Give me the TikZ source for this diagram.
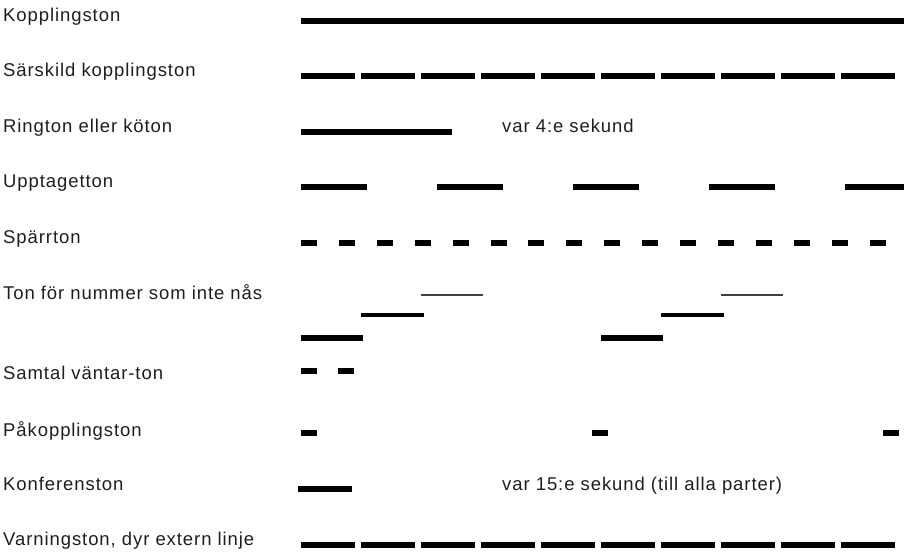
\documentclass[tikz,border=0pt]{standalone}
\usepackage{fontspec}
\setmainfont[LetterSpace=5]{Liberation Sans}
\usepackage{xcolor}
\usepackage{tikz}
\usetikzlibrary{positioning}
\definecolor{labelgray}{HTML}{1e1e1e}
\tikzset {
  x=1pt, y=-1pt,
  % names of the tones, left column
  lbl/.style = {anchor=base west, inner sep=0pt, text=labelgray,
                font=\fontsize{18.5}{22}\selectfont},
  % remarks written beside a tone
  note/.style = {lbl},
  % tone segments
  tone/.style = {line width=6pt},
  midtone/.style = {line width=4pt},
  thintone/.style = {line width=2pt, black!75},
}
\begin{document}
\begin{tikzpicture}
        \useasboundingbox (0,0) rectangle (904,552);

        \node[lbl] (kopp) at (3,21) {Kopplingston};
        \node[lbl] (sars) at (3,76) {Särskild kopplingston};
        \node[lbl] (ring) at (3,132) {Rington eller köton};
        \node[lbl] (uppt) at (3,187) {Upptagetton};
        \node[lbl] (sparr) at (3,243) {Spärrton};
        \node[lbl] (nas) at (3,299) {Ton för nummer som inte nås};
        \node[lbl] (vant) at (3,379) {Samtal väntar-ton};
        \node[lbl] (pak) at (3,436) {Påkopplingston};
        \node[lbl] (konf) at (3,490) {Konferenston};
        \node[lbl] (varn) at (3,545) {Varningston, dyr extern linje};

        % continuous and dashed tones
        \draw[tone] (301,21) -- (904,21);
        \foreach \i in {0,...,9}
          \draw[tone] (301+60*\i,76) -- ++(54,0);
        \draw[tone] (301,132) -- (452,132);
        \node[note] (ring4) at (502,132) {var 4:e sekund};
        \foreach \i in {0,...,4}
          \draw[tone] (301+136*\i,187) -- ({min(367+136*\i,904)},187);
        \foreach \i in {0,...,15}
          \draw[tone] (301+37.9*\i,243) -- ++(16,0);

        % rising three-step tone, twice
        \foreach \s in {301,601} {
          \draw[tone] (\s,338) -- ++(62,0);
          \draw[midtone] (\s+60,314.5) -- ++(63,0);
          \draw[thintone] (\s+120,295) -- ++(62,0);
        }

        % short beeps
        \foreach \s in {301,338}
          \draw[tone] (\s,371) -- ++(16,0);
        \foreach \s in {301,592,883}
          \draw[tone] (\s,433) -- ++(16,0);
        \draw[tone] (298,489) -- (352,489);
        \node[note] (konf15) at (502,490) {var 15:e sekund (till alla parter)};
        \foreach \i in {0,...,9}
          \draw[tone] (301+60*\i,545) -- ++(54,0);
      \end{tikzpicture}
\end{document}
